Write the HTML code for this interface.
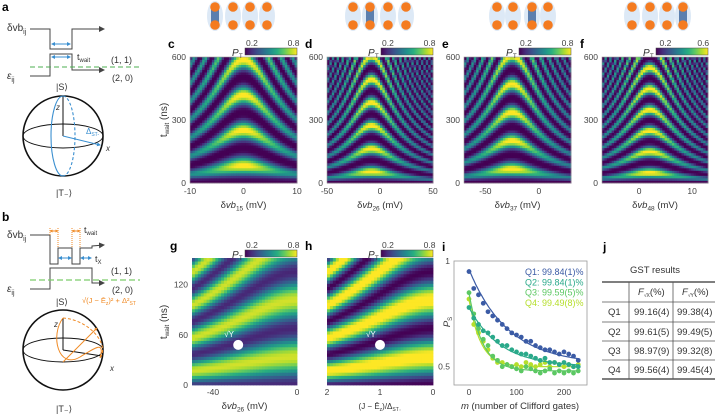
<!DOCTYPE html>
<html><head><meta charset="utf-8"><style>
body{margin:0;background:#fff;}
svg{display:block;font-family:"Liberation Sans",sans-serif;}
text{fill:#333;}
.pl{font-weight:bold;font-size:12px;fill:#000;}
.tk{font-size:8.5px;fill:#444;}
</style></head><body>
<svg id="fig" width="715" height="416" viewBox="0 0 715 416" xmlns="http://www.w3.org/2000/svg">
<defs>
<marker id="ah" markerWidth="6" markerHeight="6" refX="5" refY="3" orient="auto"><path d="M0,0 L6,3 L0,6 z" fill="#444"/></marker>
<marker id="bh" markerWidth="4" markerHeight="4" refX="3" refY="2" orient="auto-start-reverse"><path d="M0,0 L4,2 L0,4 z" fill="#3a8fd0"/></marker>
<marker id="oh" markerWidth="3" markerHeight="3" refX="2.5" refY="1.5" orient="auto-start-reverse"><path d="M0,0 L3,1.5 L0,3 z" fill="#f08a24"/></marker>
<linearGradient id="vir" x1="0" x2="1" y1="0" y2="0">
<stop offset="0" stop-color="#440154"/><stop offset=".125" stop-color="#472d7b"/><stop offset=".25" stop-color="#3b528b"/><stop offset=".375" stop-color="#2c728e"/><stop offset=".5" stop-color="#21918c"/><stop offset=".625" stop-color="#28ae80"/><stop offset=".75" stop-color="#5ec962"/><stop offset=".875" stop-color="#addc30"/><stop offset="1" stop-color="#fde725"/>
</linearGradient>
</defs>

<g>
<text class="pl" x="2" y="11">a</text>
<text x="7" y="31" font-size="10">δvb<tspan font-size="7" dy="3">ij</tspan></text>
<polyline points="30,29 50,29 50,49 72,49 72,29 104,29" fill="none" stroke="#444" stroke-width="1" marker-end="url(#ah)"/>
<polyline points="30,76 50,76 50,54 72,54 72,70 104,70" fill="none" stroke="#444" stroke-width="1" marker-end="url(#ah)"/>
<line x1="52" y1="44" x2="70" y2="44" stroke="#3a8fd0" marker-start="url(#bh)" marker-end="url(#bh)"/>
<line x1="52" y1="57" x2="70" y2="57" stroke="#3a8fd0" marker-start="url(#bh)" marker-end="url(#bh)"/>
<text x="77" y="60" font-size="9">t<tspan font-size="6" dy="2">wait</tspan></text>
<line x1="30" y1="67" x2="140" y2="67" stroke="#4caf50" stroke-dasharray="5,3"/>
<text x="7" y="79" font-size="10" font-style="italic">ε<tspan font-size="7" dy="3" font-style="normal">ij</tspan></text>
<text x="111" y="63" font-size="9">(1, 1)</text>
<text x="112" y="81" font-size="9">(2, 0)</text>
<text x="56" y="90" font-size="9">|S⟩</text>
<circle cx="63" cy="136" r="40" fill="none" stroke="#111" stroke-width="1.6"/>
<ellipse cx="63" cy="136" rx="40" ry="12" fill="none" stroke="#111" stroke-width="0.9"/>
<line x1="63" y1="136" x2="63" y2="96" stroke="#111"/>
<text x="56" y="110" font-size="8" font-style="italic">z</text>
<path d="M63,96 A12,40 0 0 0 63,176" fill="none" stroke="#3a8fd0" stroke-width="1.1"/>
<path d="M63,96 A12,40 0 0 1 63,176" fill="none" stroke="#3a8fd0" stroke-dasharray="3,2" stroke-width="1.1"/>
<line x1="63" y1="136" x2="100" y2="145" stroke="#3a8fd0" marker-end="url(#bh)"/>
<text x="86" y="134" font-size="8" style="fill:#3a8fd0">Δ<tspan font-size="5" dy="2">ST-</tspan></text>
<text x="106" y="151" font-size="8" font-style="italic">x</text>
<text x="56" y="196" font-size="9">|T₋⟩</text>
</g>

<g>
<text class="pl" x="2" y="221">b</text>
<text x="7" y="238" font-size="10">δvb<tspan font-size="7" dy="3">ij</tspan></text>
<polyline points="30,235 50,235 50,264 58,264 58,248 72,248 72,264 80,264 80,248 92,248 92,246 104,245" fill="none" stroke="#444" marker-end="url(#ah)"/>
<polyline points="30,289 50,289 50,268 92,268 92,283 104,283" fill="none" stroke="#444" marker-end="url(#ah)"/>
<line x1="50" y1="231" x2="58" y2="231" stroke="#f08a24" marker-start="url(#oh)" marker-end="url(#oh)"/>
<line x1="72" y1="231" x2="80" y2="231" stroke="#f08a24" marker-start="url(#oh)" marker-end="url(#oh)"/>
<line x1="50" y1="228" x2="50" y2="236" stroke="#f08a24" stroke-dasharray="1,1"/>
<line x1="58" y1="228" x2="58" y2="248" stroke="#f08a24" stroke-dasharray="1,1"/>
<line x1="72" y1="228" x2="72" y2="248" stroke="#f08a24" stroke-dasharray="1,1"/>
<line x1="80" y1="228" x2="80" y2="248" stroke="#f08a24" stroke-dasharray="1,1"/>
<line x1="59" y1="258" x2="71" y2="258" stroke="#3a8fd0" marker-start="url(#bh)" marker-end="url(#bh)"/>
<line x1="81" y1="258" x2="91" y2="258" stroke="#3a8fd0" marker-start="url(#bh)" marker-end="url(#bh)"/>
<text x="84" y="233" font-size="9">t<tspan font-size="6" dy="2">wait</tspan></text>
<text x="95" y="262" font-size="9">t<tspan font-size="6" dy="2">X</tspan></text>
<line x1="30" y1="280" x2="140" y2="280" stroke="#7ccc6a" stroke-dasharray="6,3" stroke-width="1.2"/>
<text x="7" y="292" font-size="10" font-style="italic">ε<tspan font-size="7" dy="3" font-style="normal">ij</tspan></text>
<text x="111" y="274" font-size="9">(1, 1)</text>
<text x="112" y="293" font-size="9">(2, 0)</text>
<text x="56" y="305" font-size="9">|S⟩</text>
<text x="82" y="303" font-size="7.5" style="fill:#f08a24">√(J − Ē<tspan font-size="5" dy="2">z</tspan><tspan dy="-2">)² + Δ²</tspan><tspan font-size="5" dy="2">ST</tspan></text>
<circle cx="63" cy="350" r="40" fill="none" stroke="#111" stroke-width="1.6"/>
<ellipse cx="63" cy="350" rx="40" ry="12" fill="none" stroke="#111" stroke-width="0.9"/>
<line x1="63" y1="350" x2="63" y2="318" stroke="#111"/>
<line x1="63" y1="350" x2="102" y2="356" stroke="#111"/>
<text x="54" y="327" font-size="8" font-style="italic">z</text>
<text x="110" y="371" font-size="8" font-style="italic">x</text>
<line x1="63" y1="362" x2="97" y2="328" stroke="#f08a24" marker-end="url(#oh)"/>
<path d="M63,318 C50,335 58,370 80,357 C95,348 105,340 100,358" fill="none" stroke="#f08a24"/>
<path d="M63,318 C90,320 110,345 100,358" fill="none" stroke="#f08a24" stroke-dasharray="3,2"/>
<text x="56" y="412" font-size="9">|T₋⟩</text>
</g>

<g id="mols"></g>
<g id="heat"></g>
<g id="axes"></g>
<g id="rb"></g>

<g font-size="9.5">
<text class="pl" x="603" y="251">j</text>
<text x="630" y="273" font-size="9.5">GST results</text>
<line x1="602" y1="282" x2="715" y2="282" stroke="#333" stroke-width="1.2"/>
<line x1="602" y1="302" x2="715" y2="302" stroke="#555" stroke-width="0.8"/>
<line x1="602" y1="322" x2="715" y2="322" stroke="#555" stroke-width="0.8"/>
<line x1="602" y1="341" x2="715" y2="341" stroke="#555" stroke-width="0.8"/>
<line x1="602" y1="360" x2="715" y2="360" stroke="#555" stroke-width="0.8"/>
<line x1="602" y1="379" x2="715" y2="379" stroke="#333" stroke-width="1.2"/>
<line x1="629" y1="282" x2="629" y2="379" stroke="#555" stroke-width="0.8"/>
<line x1="673" y1="282" x2="673" y2="379" stroke="#555" stroke-width="0.8"/>
<text x="638" y="295" font-style="italic">F<tspan font-size="5" dy="2" font-style="normal">√X</tspan><tspan dy="-2" font-style="normal">(%)</tspan></text>
<text x="682" y="295" font-style="italic">F<tspan font-size="5" dy="2" font-style="normal">√Y</tspan><tspan dy="-2" font-style="normal">(%)</tspan></text>
<text x="608" y="315">Q1</text><text x="634" y="315">99.16(4)</text><text x="677" y="315">99.38(4)</text>
<text x="608" y="335">Q2</text><text x="634" y="335">99.61(5)</text><text x="677" y="335">99.49(5)</text>
<text x="608" y="354">Q3</text><text x="634" y="354">98.97(9)</text><text x="677" y="354">99.32(8)</text>
<text x="608" y="373">Q4</text><text x="634" y="373">99.56(4)</text><text x="677" y="373">99.45(4)</text>
</g>
</svg>
<script>
const panelNames = ['c','d','e','f'];
const xMin = [-10,-50,-70,-7];
const xMax = [10,50,30,13];
const centers = [0,-8,-25,2];
const widths = [6,22,25,5];
const periods = [168,110,135,100];
const cbTicks = [[0.2,0.8],[0.2,0.8],[0.2,0.8],[0.2,0.6]];
const xTickVals = [[-10,0,10],[-50,0,50],[-50,0],[0,10]];
const xLabels = ['15','26','37','48'];
const yTickVals = [0,300,600];
const ghTicksY = [0,60,120];
const gXTicks = [-40,0];
const hXTicks = [2,1,0];
const ghPeriod = 68;
const gDot = [-28,48];
const hDot = [1,48];
const mVals = [0,10,20,30,40,50,60,70,80,90,100,110,120,130,140,150,160,170,180,190,200,210,220,230];
const q1 = [0.95,0.87,0.84,0.80,0.76,0.74,0.72,0.70,0.68,0.66,0.65,0.64,0.62,0.62,0.60,0.59,0.58,0.58,0.57,0.56,0.57,0.56,0.55,0.53];
const q2 = [0.78,0.73,0.70,0.67,0.66,0.64,0.62,0.60,0.60,0.58,0.57,0.56,0.56,0.55,0.54,0.53,0.54,0.52,0.52,0.51,0.52,0.51,0.50,0.50];
const q3 = [0.85,0.75,0.68,0.63,0.60,0.55,0.53,0.50,0.51,0.50,0.49,0.48,0.50,0.49,0.48,0.47,0.48,0.49,0.47,0.48,0.47,0.48,0.47,0.48];
const q4 = [0.82,0.70,0.66,0.62,0.58,0.54,0.52,0.52,0.51,0.50,0.51,0.50,0.52,0.51,0.50,0.51,0.52,0.50,0.52,0.51,0.50,0.51,0.50,0.51];
const fitA = [0.45,0.28,0.37,0.32];
const fitP = [0.988,0.985,0.965,0.960];
const fitB = [0.51,0.50,0.48,0.50];
const qLabels = ['Q1: 99.84(1)%','Q2: 99.84(1)%','Q3: 99.59(5)%','Q4: 99.49(8)%'];
const qColors = ['#3b5ba5','#2aa98a','#5cc863','#b5de2b'];

const NS='http://www.w3.org/2000/svg';
function el(tag,attrs,parent,txt){const e=document.createElementNS(NS,tag);for(const k in attrs)e.setAttribute(k,attrs[k]);if(txt!==undefined)e.textContent=txt;parent.appendChild(e);return e;}
const stops=[[68,1,84],[71,45,123],[59,82,139],[44,114,142],[33,145,140],[40,174,128],[94,201,98],[173,220,48],[253,231,37]];
function vir(t){t=Math.max(0,Math.min(1,t));const s=t*8,i=Math.min(7,Math.floor(s)),f=s-i;const a=stops[i],b=stops[i+1];return 'rgb('+a.map((v,k)=>Math.round(v+(b[k]-v)*f)).join(',')+')';}

const heat=document.getElementById('heat'),axes=document.getElementById('axes'),mols=document.getElementById('mols');
const plotX=[190,327,464,602],plotW=[107,106,107,106];

const molCols=[[215,233,250,267],[353,370,388,406],[497,513,532,548],[632,650,667,683]];
const molHi=[0,1,2,3];
molCols.forEach((cols,p)=>{const g=el('g',{},mols);


cols.forEach((cx,i)=>{el('ellipse',{cx:cx,cy:16,rx:8,ry:15,fill:'#dde9f6'},g);
if(i===molHi[p])el('rect',{x:cx-4,y:8,width:8,height:16,fill:'#5b7fae'},g);
el('circle',{cx:cx,cy:7,r:4.8,fill:'#f47b20'},g);el('circle',{cx:cx,cy:25,r:4.8,fill:'#f47b20'},g);});});

function colorbar(x,y,ticks,lo,hi,name){
 const g=el('g',{},axes);
 
 
 el('text',{x:x-13,y:y+8,'font-size':'10','font-style':'italic'},g,'P');
 el('text',{x:x-6,y:y+10,'font-size':'6'},g,'T');
 el('rect',{x:x,y:y,width:52,height:7,fill:'url(#vir)',stroke:'#444','stroke-width':0.5},g);
 ticks.forEach(v=>{const tx=x+(v-lo)/(hi-lo)*52;el('text',{x:tx,y:y-2,'font-size':'8.5','text-anchor':'middle',class:'tk'},g,v);});
}

for(let p=0;p<4;p++){
 const X=plotX[p],W=plotW[p],Y=57,H=126,nx=44,ny=50;
 const g=el('g',{},heat);
 
 
 const cw=W/nx,ch=H/ny;
 for(let i=0;i<nx;i++)for(let j=0;j<ny;j++){
  const x=xMin[p]+(i+0.5)/nx*(xMax[p]-xMin[p]);const t=(j+0.5)/ny*600;
  const d=(x-centers[p])/widths[p];const d2=d*d;
  const fr=Math.sqrt(1+d2)/periods[p];
  const amp=0.25+0.55/(1+d2);
  const s=Math.pow(Math.sin(Math.PI*fr*t),2);
  const P=0.08+amp*s*s*0.6+amp*s*0.4;
  el('rect',{x:(X+i*cw).toFixed(2),y:(Y+H-(j+1)*ch).toFixed(2),width:(cw+0.4).toFixed(2),height:(ch+0.4).toFixed(2),fill:vir((P-0.1)/0.75)},g);
 }
 el('rect',{x:X,y:Y,width:W,height:H,fill:'none',stroke:'#999','stroke-width':0.6},g);
 el('text',{x:X-22,y:48,class:'pl'},axes,panelNames[p]);
 const hi=p===3?0.65:0.85;
 colorbar(X+W-52,48,cbTicks[p],0.1,hi,'colorbar-'+panelNames[p]);
 yTickVals.forEach(v=>{el('text',{x:X-4,y:Y+H-v/600*H+3,'text-anchor':'end',class:'tk'},axes,v);});
 xTickVals[p].forEach(v=>{el('text',{x:X+(v-xMin[p])/(xMax[p]-xMin[p])*W,y:194,'text-anchor':'middle',class:'tk'},axes,v);});
 const xl=el('text',{x:X+W/2,y:208,'text-anchor':'middle','font-size':'9.5'},axes);
 xl.innerHTML='δ<tspan font-style="italic">vb</tspan><tspan font-size="6.5" dy="2.5">'+xLabels[p]+'</tspan><tspan dy="-2.5"> (mV)</tspan>';
}
const yl=el('text',{transform:'translate(167,120) rotate(-90)','text-anchor':'middle','font-size':'10'},axes);
yl.innerHTML='t<tspan font-size="6.5" dy="2">wait</tspan><tspan dy="-2"> (ns)</tspan>';
const yl2=el('text',{transform:'translate(167,322) rotate(-90)','text-anchor':'middle','font-size':'10'},axes);
yl2.innerHTML='t<tspan font-size="6.5" dy="2">wait</tspan><tspan dy="-2"> (ns)</tspan>';

[['g',192,105,-50,0],['h',327,106,2,0]].forEach((cfg,k)=>{
 const [nm,X,W,a,b]=cfg;const Y=258,H=127,nx=36,ny=40,tMax=152;
 const g=el('g',{},heat);
 
 
 const cw=W/nx,ch=H/ny;
 for(let i=0;i<nx;i++)for(let j=0;j<ny;j++){
  const u=2*(1-(i+0.5)/nx);const t=(j+0.5)/ny*tMax;
  const Om=Math.sqrt(1+0.5*u*u)/ghPeriod;
  let P=0.1+0.8*Math.pow(Math.sin(Math.PI*Om*t+0.1*u),2);
  if(k===0)P=0.18+0.62*(P-0.1)/0.8;
  el('rect',{x:(X+i*cw).toFixed(2),y:(Y+H-(j+1)*ch).toFixed(2),width:(cw+0.4).toFixed(2),height:(ch+0.4).toFixed(2),fill:vir((P-0.1)/0.75)},g);
 }
 el('text',{x:X-22,y:250,class:'pl'},axes,nm);
 colorbar(X+W-52,250,[0.2,0.8],0.1,0.85,'colorbar-'+nm);
 const dot=k===0?gDot:hDot;
 const dx=k===0?X+(dot[0]-a)/(b-a)*W:X+(2-dot[0])/2*W;
 const dy=Y+H-dot[1]/tMax*H;
 el('circle',{cx:dx,cy:dy,r:5,fill:'#fff'},g);
 el('text',{x:dx-14,y:dy-8,'font-size':'8',style:'fill:#fff'},g,'√Y');
 if(k===0){ghTicksY.forEach(v=>{el('text',{x:X-4,y:Y+H-v/tMax*H+3,'text-anchor':'end',class:'tk'},axes,v);});
  gXTicks.forEach(v=>{el('text',{x:X+(v-a)/(b-a)*W,y:395,'text-anchor':'middle',class:'tk'},axes,v);});
  const t=el('text',{x:X+W/2,y:409,'text-anchor':'middle','font-size':'9.5'},axes);t.innerHTML='δ<tspan font-style="italic">vb</tspan><tspan font-size="6.5" dy="2.5">26</tspan><tspan dy="-2.5"> (mV)</tspan>';}
 else{hXTicks.forEach(v=>{el('text',{x:X+(2-v)/2*W,y:395,'text-anchor':'middle',class:'tk'},axes,v);});
  const t=el('text',{x:X+W/2,y:409,'text-anchor':'middle','font-size':'8'},axes);t.innerHTML='(J − Ē<tspan font-size="5" dy="2">z</tspan><tspan dy="-2">)/Δ</tspan><tspan font-size="5" dy="2">ST₋</tspan>';}
});

const rb=document.getElementById('rb');
const iX=454,iY=261,iW=133,iH=124;
const sx=m=>469+m/200*95;
const sy=v=>366.7-(v-0.5)*211.4;
el('text',{x:iX-12,y:251,class:'pl'},rb,'i');
el('rect',{x:iX,y:iY,width:iW,height:iH,fill:'none',stroke:'#999','stroke-width':0.8},rb);
[[1,'1'],[0.5,'0.5']].forEach(([v,s])=>el('text',{x:iX-4,y:sy(v)+3,'text-anchor':'end',class:'tk'},rb,s));
[0,100,200].forEach(v=>el('text',{x:sx(v),y:395,'text-anchor':'middle',class:'tk'},rb,v));
const il=el('text',{x:520,y:409,'text-anchor':'middle','font-size':'9.5'},rb);il.innerHTML='<tspan font-style="italic">m</tspan> (number of Clifford gates)';
const yli=el('text',{transform:'translate(450,322) rotate(-90)','text-anchor':'middle','font-size':'9.5','font-style':'italic'},rb);yli.innerHTML='P<tspan font-size="6" dy="2" font-style="normal">S</tspan>';
[q4,q3,q2,q1].forEach((arr,ri)=>{const q=3-ri;
 const g=el('g',{},rb);
 
 
 let d='';for(let m=0;m<=232;m+=2){const v=fitB[q]+fitA[q]*Math.pow(fitP[q],m);d+=(m?'L':'M')+sx(m).toFixed(1)+','+sy(v).toFixed(1);}
 el('path',{d:d,fill:'none',stroke:qColors[q],'stroke-width':1.2},g);
 arr.forEach((v,i)=>el('circle',{cx:sx(mVals[i]),cy:sy(v),r:2.4,fill:qColors[q]},g));
 el('text',{x:525,y:275+q*10.3,'font-size':'9',style:'fill:'+qColors[q]},g,qLabels[q]);
});
</script>
</body></html>
